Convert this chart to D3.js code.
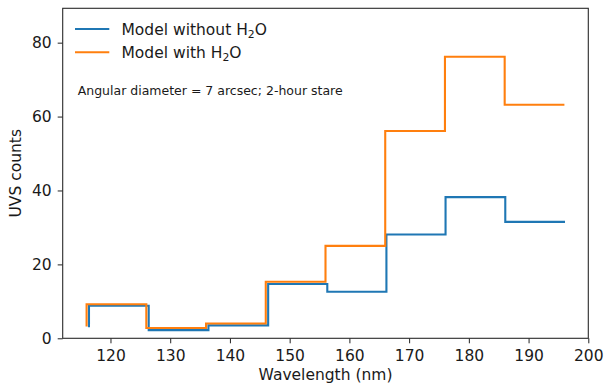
<!DOCTYPE html>
<html>
<head>
<meta charset="utf-8">
<script src="https://cdn.jsdelivr.net/npm/d3@7"></script>
<style>
  html, body { margin: 0; padding: 0; background: #fff; }
  svg { display: block; }
  text { font-family: "DejaVu Sans", sans-serif; fill: #1a1a1a; }
</style>
</head>
<body>
<svg id="chart" width="609" height="387"></svg>
<script>
// ---- data ----
const edgesWith = [116, 126, 136, 146, 156, 166, 176, 186, 196];
const edgesWithout = [116.4, 126.4, 136.4, 146.4, 156.3, 166.2, 176.1, 186.1, 196.1];
const countsWithout = [3.0, 8.8, 2.2, 3.5, 14.7, 12.6, 28.1, 38.2, 31.5];
const countsWith = [3.2, 9.2, 2.8, 4.0, 15.3, 25.0, 56.1, 76.2, 63.2];
const xTicks = [120, 130, 140, 150, 160, 170, 180, 190, 200];
const yTicks = [0, 20, 40, 60, 80];
const seriesNames = ["Model without H\u2082O", "Model with H\u2082O"];
const colors = ["#1f77b4", "#ff7f0e"];
const annotation = "Angular diameter = 7 arcsec; 2-hour stare";
const xLabel = "Wavelength (nm)";
const yLabel = "UVS counts";

// ---- layout ----
const L = 62.7, R = 588.3, T = 8.3, B = 338.3;
const svg = d3.select("#chart");
const x = d3.scaleLinear().domain([112, 200]).range([L, R]);
const y = d3.scaleLinear().domain([0, 89.3]).range([B, T]);

const fs = 15.5;

// axes
const xAxis = svg.append("g").attr("transform", `translate(0,${B})`)
  .call(d3.axisBottom(x).tickValues(xTicks).tickFormat(d3.format("d")).tickSize(5).tickPadding(7));
const yAxis = svg.append("g").attr("transform", `translate(${L},0)`)
  .call(d3.axisLeft(y).tickValues(yTicks).tickFormat(d3.format("d")).tickSize(5).tickPadding(6));
[xAxis, yAxis].forEach(g => {
  g.select(".domain").remove();
  g.selectAll(".tick line").attr("stroke", "#222").attr("stroke-width", 1);
  g.selectAll(".tick text").style("font-family", "DejaVu Sans, sans-serif")
    .style("font-size", fs + "px").attr("fill", "#1a1a1a");
});

// lines
const series = [
  { xs: edgesWithout, ys: countsWithout, color: colors[0] },
  { xs: edgesWith, ys: countsWith, color: colors[1] }
];
const line = d3.line().x(d => x(d[0])).y(d => y(d[1])).curve(d3.curveStepBefore);
series.forEach(s => {
  svg.append("path")
    .datum(s.xs.map((v, i) => [v, s.ys[i]]))
    .attr("d", line)
    .attr("fill", "none")
    .attr("stroke", s.color)
    .attr("stroke-width", 2.1);
});

// frame
svg.append("rect").attr("x", L).attr("y", T).attr("width", R - L).attr("height", B - T)
  .attr("fill", "none").attr("stroke", "#2a2a2a").attr("stroke-width", 1.1);

// legend
const legY = [29, 52.3];
seriesNames.forEach((name, i) => {
  svg.append("line").attr("x1", 75).attr("x2", 109.3).attr("y1", legY[i]).attr("y2", legY[i])
    .attr("stroke", colors[i]).attr("stroke-width", 2.1);
  const parts = name.split("\u2082");
  const t = svg.append("text").attr("x", 121.5).attr("y", legY[i] + 5.6).style("font-size", fs + "px");
  t.append("tspan").text(parts[0].replace(/ $/, "\u00a0"));
  t.append("tspan").attr("dy", 3.5).style("font-size", (fs * 0.7) + "px").text("2");
  t.append("tspan").attr("dy", -3.5).text(parts[1]);
});

// annotation
svg.append("text").attr("x", 77.7).attr("y", 94.5).style("font-size", "12.5px").text(annotation);

// axis labels
svg.append("text").attr("x", (L + R) / 2).attr("y", 380).attr("text-anchor", "middle")
  .style("font-size", fs + "px").text(xLabel);
svg.append("text").attr("transform", `translate(20.5,${(T + B) / 2}) rotate(-90)`)
  .attr("text-anchor", "middle").style("font-size", fs + "px").text(yLabel);
</script>
</body>
</html>
